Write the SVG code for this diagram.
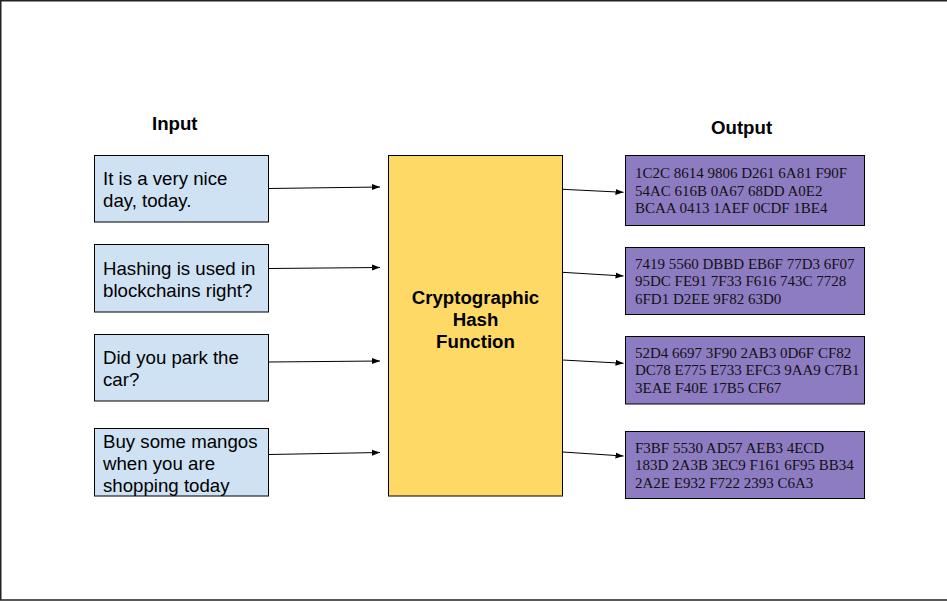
<svg xmlns="http://www.w3.org/2000/svg" width="947" height="601" viewBox="0 0 947 601">
<defs>
<style>
.in rect{fill:#cfe2f3;stroke:#000;stroke-width:1}
.in text{font-family:"Liberation Sans",Arial,sans-serif;font-size:18.67px;fill:#000}
.out rect{fill:#8e7cc3;stroke:#000;stroke-width:1}
.out text{font-family:"Liberation Serif","Times New Roman",serif;font-size:15px;fill:#111}
.hdr{font-family:"Liberation Sans",Arial,sans-serif;font-size:18.67px;font-weight:bold;fill:#000}
.conn line{stroke:#000;stroke-width:1;marker-end:url(#ah)}
</style>
<marker id="ah" markerUnits="userSpaceOnUse" markerWidth="9" markerHeight="8" refX="8" refY="4" orient="auto">
<path d="M0,1 L8,4 L0,7 Z" fill="#000"/>
</marker>
</defs>
<rect width="947" height="601" fill="#fff"/>
<path d="M947,0.75 H0.75 V600 H947" fill="none" stroke="#222" stroke-width="1.5"/>
<text class="hdr" x="152" y="130">Input</text>
<text class="hdr" x="711" y="134">Output</text>
<g id="in1" class="in"><rect x="94.5" y="155.5" width="174" height="66.5"/><text x="103" y="185">It is a very nice</text><text x="103" y="207">day, today.</text></g>
<g id="in2" class="in"><rect x="94.5" y="244.5" width="174" height="67.5"/><text x="103" y="275">Hashing is used in</text><text x="103" y="297">blockchains right?</text></g>
<g id="in3" class="in"><rect x="94.5" y="334.5" width="174" height="66.5"/><text x="103" y="364">Did you park the</text><text x="103" y="386">car?</text></g>
<g id="in4" class="in"><rect x="94.5" y="428.5" width="174" height="67.5"/><text x="103" y="448">Buy some mangos</text><text x="103" y="470">when you are</text><text x="103" y="492">shopping today</text></g>
<g id="hash"><rect x="388.5" y="155.5" width="174" height="340.5" fill="#ffd966" stroke="#000" stroke-width="1"/>
<text class="hdr" text-anchor="middle" x="475.5" y="304">Cryptographic</text><text class="hdr" text-anchor="middle" x="475.5" y="326">Hash</text><text class="hdr" text-anchor="middle" x="475.5" y="348">Function</text></g>
<g id="out1" class="out"><rect x="625.5" y="155.5" width="239" height="70"/><text x="635" y="178">1C2C 8614 9806 D261 6A81 F90F</text><text x="635" y="195.5">54AC 616B 0A67 68DD A0E2</text><text x="635" y="213">BCAA 0413 1AEF 0CDF 1BE4</text></g>
<g id="out2" class="out"><rect x="625.5" y="247.5" width="239" height="67"/><text x="635" y="268.5">7419 5560 DBBD EB6F 77D3 6F07</text><text x="635" y="286">95DC FE91 7F33 F616 743C 7728</text><text x="635" y="303.5">6FD1 D2EE 9F82 63D0</text></g>
<g id="out3" class="out"><rect x="625.5" y="336.5" width="239" height="67.5"/><text x="635" y="357.5">52D4 6697 3F90 2AB3 0D6F CF82</text><text x="635" y="375">DC78 E775 E733 EFC3 9AA9 C7B1</text><text x="635" y="392.5">3EAE F40E 17B5 CF67</text></g>
<g id="out4" class="out"><rect x="625.5" y="431.5" width="239" height="67"/><text x="635" y="452.5">F3BF 5530 AD57 AEB3 4ECD</text><text x="635" y="470">183D 2A3B 3EC9 F161 6F95 BB34</text><text x="635" y="487.5">2A2E E932 F722 2393 C6A3</text></g>
<g id="connectors" class="conn">
<line x1="268.5" y1="188.5" x2="380" y2="187"/>
<line x1="268.5" y1="268.5" x2="380" y2="267.5"/>
<line x1="268.5" y1="362" x2="380" y2="361"/>
<line x1="268.5" y1="454.5" x2="380" y2="452.5"/>
<line x1="562.5" y1="189.3" x2="623.5" y2="192.3"/>
<line x1="562.5" y1="272.3" x2="623.5" y2="276"/>
<line x1="562.5" y1="360" x2="623.5" y2="363.3"/>
<line x1="562.5" y1="452" x2="623.5" y2="456"/>
</g>
</svg>
